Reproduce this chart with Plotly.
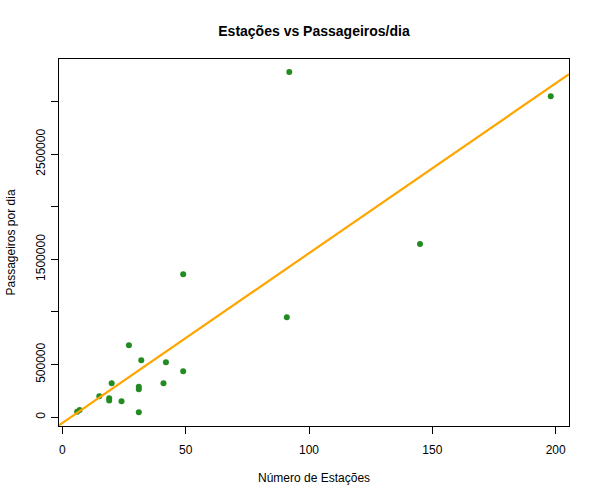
import numpy as np
import plotly.graph_objects as go

# Número de estações e passageiros por dia
estacoes = [6, 7, 15, 20, 19, 19, 24, 27, 31, 31, 31, 32, 41, 42, 49, 49, 91, 92, 145, 198]
passageiros = [53000, 69000, 200000, 323000, 180000, 160000, 152000, 684000, 291000,
               266000, 48000, 542000, 323000, 523000, 1359000, 437000, 951000, 3280000,
               1645000, 3050000]

y_ticks = [0, 500000, 1000000, 1500000, 2000000, 2500000, 3000000]
y_labels = ["0", "500000", "", "1500000", "", "2500000", ""]
x_ticks = [0, 50, 100, 150, 200]

x_range = [-1.35, 205.4]
y_range = [-83000, 3403000]

# reta de regressão (abline(lm(...)))
slope, intercept = np.polyfit(estacoes, passageiros, 1)
line_x = np.array(x_range)
line_y = intercept + slope * line_x

font = "Liberation Sans, Arial, sans-serif"

fig = go.Figure()
fig.add_trace(go.Scatter(
    x=estacoes, y=passageiros, mode='markers',
    marker=dict(color='#228B22', size=6, line=dict(width=0)),
    showlegend=False, cliponaxis=False
))
fig.add_trace(go.Scatter(
    x=line_x, y=line_y, mode='lines',
    line=dict(color='#FFA500', width=2.2),
    showlegend=False
))

fig.update_layout(
    width=600, height=500,
    margin=dict(l=59, r=31, t=59, b=74),
    paper_bgcolor='white', plot_bgcolor='white',
    font=dict(family=font, size=12, color='black'),
    title=dict(text="<b>Estações vs Passageiros/dia</b>", x=314 / 600, xanchor='center',
               y=1 - 31 / 500, yanchor='middle', font=dict(size=14, family=font)),
    xaxis=dict(
        range=x_range, tickvals=x_ticks, ticks='outside', ticklen=7, tickcolor='black',
        showline=True, linecolor='black', linewidth=1, mirror=True, automargin=False,
        showgrid=False, zeroline=False, ticklabelstandoff=6,
    ),
    yaxis=dict(
        range=y_range, tickvals=y_ticks, ticktext=y_labels, tickangle=-90,
        ticks='outside', ticklen=7, tickcolor='black', automargin=False,
        showline=True, linecolor='black', linewidth=1, mirror=True,
        showgrid=False, zeroline=False, ticklabelstandoff=1,
    ),
    annotations=[
        dict(text="Passageiros por dia", textangle=-90, showarrow=False,
             xref='paper', yref='paper', x=(10 - 59) / 510, y=0.5,
             xanchor='center', yanchor='middle', font=dict(size=12)),
        dict(text="Número de Estações", showarrow=False,
             xref='paper', yref='paper', x=0.5, y=(426 - 478) / 367,
             xanchor='center', yanchor='middle', font=dict(size=12)),
    ],
)

# sem a margem padrão de 8px do <body>
fig.write_html("out.html", config={'displayModeBar': False},
               post_script="document.body.style.margin = '0';")
